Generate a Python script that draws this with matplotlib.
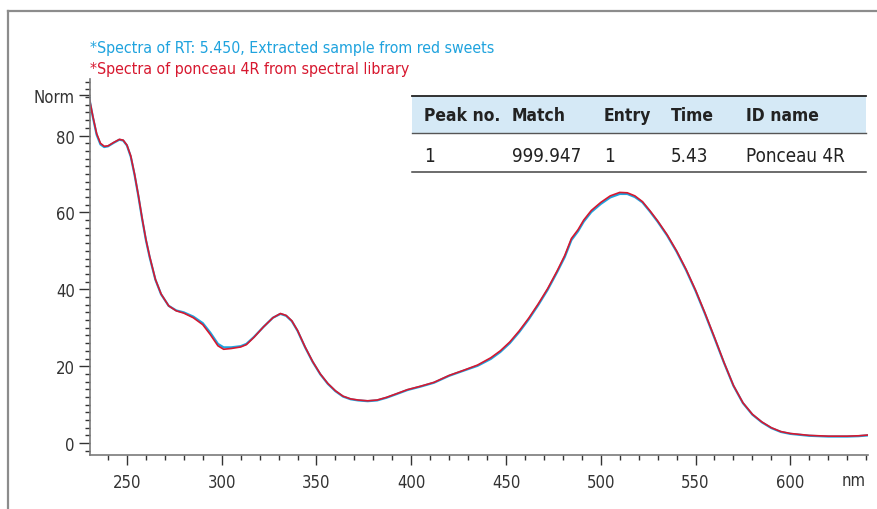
import matplotlib
matplotlib.use("Agg")
import matplotlib.pyplot as plt
from matplotlib.lines import Line2D
from matplotlib.patches import Rectangle
from matplotlib.ticker import MultipleLocator, FixedLocator

plt.rcParams['font.family'] = ['DejaVu Sans']
plt.rcParams['font.stretch'] = 'condensed'

# wavelength (nm) and normalised absorbance of the library spectrum
wavelength = [230, 232, 234, 236, 238, 240, 243, 246, 248, 250, 252, 254, 256, 258,
              260, 262, 265, 268, 272, 276, 280, 285, 290, 294, 298, 301, 305, 310,
              313, 317, 322, 327, 331, 334, 337, 340, 344, 348, 352, 356, 360, 364,
              368, 372, 377, 382, 387, 392, 398, 405, 412, 420, 428, 435, 442, 447,
              452, 457, 462, 467, 472, 477, 481, 484.5, 488, 491, 495, 500, 505, 510,
              514, 518, 522, 526, 530, 535, 540, 545, 550, 555, 560, 565, 570, 575,
              580, 585, 590, 595, 600, 610, 620, 630, 636, 641]
library = [90.0, 85.0, 80.5, 78.0, 77.2, 77.3, 78.2, 79.0, 78.8, 77.5, 74.7, 70.0, 64.5, 58.5,
           53.0, 48.5, 42.6, 38.8, 35.7, 34.4, 33.8, 32.6, 30.8, 28.2, 25.3, 24.4, 24.6, 25.0,
           25.6, 27.5, 30.2, 32.6, 33.7, 33.2, 31.8, 29.3, 25.0, 21.2, 18.0, 15.5, 13.6, 12.2,
           11.5, 11.2, 11.0, 11.2, 11.9, 12.8, 13.9, 14.8, 15.8, 17.6, 19.0, 20.3, 22.2, 24.0,
           26.3, 29.2, 32.5, 36.2, 40.2, 44.8, 48.8, 53.2, 55.5, 58.0, 60.5, 62.6, 64.3, 65.2,
           65.1, 64.3, 62.8, 60.4, 57.8, 54.2, 50.0, 45.2, 39.8, 33.8, 27.5, 21.0, 15.0, 10.5,
           7.5, 5.5, 4.0, 3.0, 2.5, 2.0, 1.8, 1.8, 1.9, 2.1]
# extracted sample spectrum at the same wavelengths
sample = [90.0, 84.8, 80.2, 77.7, 77.0, 77.2, 78.1, 78.9, 78.7, 77.4, 74.5, 69.8, 64.3, 58.3,
          52.8, 48.3, 42.5, 38.7, 35.7, 34.5, 34.0, 32.9, 31.2, 28.7, 25.8, 24.9, 24.9, 25.2,
          25.8, 27.6, 30.2, 32.6, 33.6, 33.1, 31.7, 29.2, 24.9, 21.1, 17.9, 15.4, 13.5, 12.1,
          11.4, 11.1, 10.9, 11.1, 11.8, 12.7, 13.8, 14.7, 15.7, 17.5, 18.9, 20.1, 21.9, 23.7,
          26.0, 28.9, 32.2, 35.9, 39.9, 44.5, 48.4, 52.8, 55.1, 57.6, 60.1, 62.2, 63.9, 64.8,
          64.8, 64.0, 62.6, 60.2, 57.6, 54.0, 49.8, 45.0, 39.6, 33.6, 27.3, 20.9, 14.9, 10.4,
          7.4, 5.4, 3.9, 2.9, 2.4, 1.9, 1.7, 1.7, 1.8, 2.0]

sample_label = "*Spectra of RT: 5.450, Extracted sample from red sweets"
library_label = "*Spectra of ponceau 4R from spectral library"

table_header = ["Peak no.", "Match", "Entry", "Time", "ID name"]
table_row = ["1", "999.947", "1", "5.43", "Ponceau 4R"]

blue = "#1fa3de"
red = "#d7182f"
grey = "#7a7a7a"
textcol = "#333333"

W, H = 878, 510
fig = plt.figure(figsize=(W / 100, H / 100), dpi=100)
ax = fig.add_axes([90 / W, 1 - 456 / H, (868 - 90) / W, (456 - 80) / H])

ax.plot(wavelength, sample, color=blue, lw=1.6, solid_joinstyle='round')
ax.plot(wavelength, library, color=red, lw=1.2, solid_joinstyle='round')

ax.set_xlim(230.5, 641)
ax.set_ylim(-3.1, 94.7)

for s in ['top', 'right']:
    ax.spines[s].set_visible(False)
for s in ['left', 'bottom']:
    ax.spines[s].set_color(grey)
    ax.spines[s].set_linewidth(1.2)

ax.xaxis.set_major_locator(FixedLocator([250, 300, 350, 400, 450, 500, 550, 600]))
ax.xaxis.set_minor_locator(MultipleLocator(10))
ax.yaxis.set_major_locator(FixedLocator([0, 20, 40, 60, 80, 90.5]))
ax.set_yticklabels(["0", "20", "40", "60", "80", "Norm"])
ax.yaxis.set_minor_locator(MultipleLocator(2))

ax.tick_params(axis='both', which='major', direction='out', color=textcol,
               width=1.0, labelsize=12, labelcolor=textcol)
ax.tick_params(axis='x', which='major', length=7, pad=6)
ax.tick_params(axis='y', which='major', length=8, pad=3)
ax.tick_params(axis='both', which='minor', direction='out', color=textcol,
               width=1.0, length=3.5)

fig.text(866 / W, 1 - 481 / H, "nm", ha='right', va='center', fontsize=12, color=textcol)

# series captions above the plot
fig.text(90 / W, 1 - 48 / H, sample_label, ha='left', va='center', fontsize=11.4, color=blue)
fig.text(90 / W, 1 - 70 / H, library_label, ha='left', va='center', fontsize=11.4, color=red)

# outer frame: top and left grey rules
fig.add_artist(Line2D([8 / W, 8 / W], [0, 1 - 12 / H], color="#8c8c8c", lw=1.6))
fig.add_artist(Line2D([8 / W, 1], [1 - 12 / H, 1 - 12 / H], color="#8c8c8c", lw=1.6))

# library search result table
tx0, tx1 = 412 / W, 866 / W
fig.add_artist(Rectangle((tx0, 1 - 134 / H), tx1 - tx0, 37 / H,
                         facecolor="#d5e9f6", edgecolor='none'))
fig.add_artist(Line2D([tx0, tx1], [1 - 97 / H] * 2, color="#222222", lw=1.3))
fig.add_artist(Line2D([tx0, tx1], [1 - 134 / H] * 2, color="#555555", lw=1.0))
fig.add_artist(Line2D([tx0, tx1], [1 - 173 / H] * 2, color="#444444", lw=1.1))
col_x = [424, 512, 604, 671, 746]
for cx, head, val in zip(col_x, table_header, table_row):
    fig.text(cx / W, 1 - 116 / H, head, ha='left', va='center', fontsize=12.5,
             fontweight='bold', color="#222222")
    fig.text(cx / W, 1 - 156 / H, val, ha='left', va='center', fontsize=13.5,
             color="#222222")

fig.savefig("out.png", dpi=100)
